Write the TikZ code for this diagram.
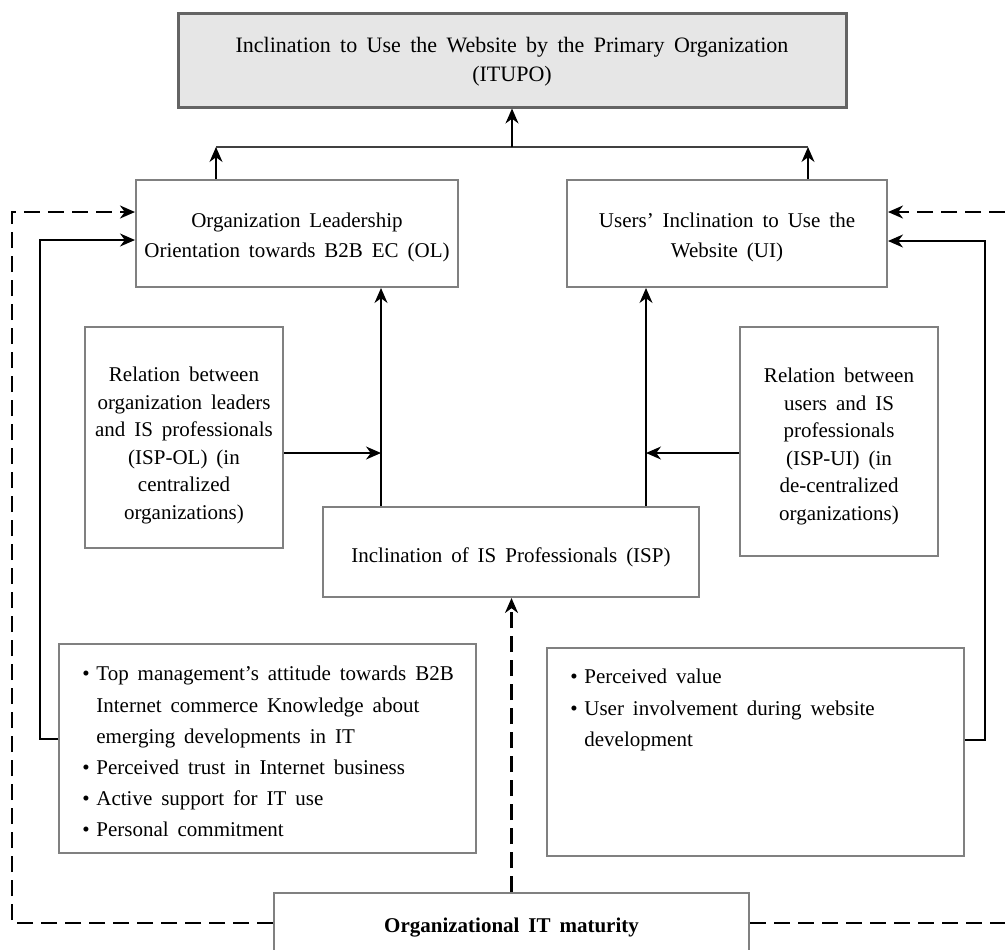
\documentclass[tikz,border=0pt]{standalone}
\usepackage{fontspec}
\setmainfont{Liberation Serif}[WordSpace=1.7]
\usetikzlibrary{arrows.meta}
\definecolor{boxgray}{HTML}{808080}
\definecolor{topgray}{HTML}{646464}
\definecolor{topfill}{HTML}{E6E6E6}
\newcommand{\dnshift}[1]{\rule{0pt}{\dimexpr 7.2pt+2\dimexpr #1\relax\relax}}
\begin{document}
\begin{tikzpicture}[x=0.5pt,y=-0.5pt,
  box/.style={draw=boxgray, line width=1pt, inner sep=0pt, align=center,
    font=\fontsize{10.5}{15}\selectfont},
  relbox/.style={box, minimum width=99pt, font=\fontsize{10.5}{13.8}\selectfont},
  bullettext/.style={inner sep=0pt, align=left, anchor=north west,
    font=\fontsize{10.5}{15.6}\selectfont},
  arr/.style={-{Stealth[length=7.5pt,width=6.5pt,inset=2.4pt]}, line width=0.6pt},
  dsh/.style={line width=1.1pt, dash pattern=on 8pt off 4pt,
    -{Stealth[length=7.5pt,width=6.5pt,inset=2.4pt]}},
]
\useasboundingbox (0,0) rectangle (1005,949);
\clip (0,0) rectangle (1005,949);

% boxes
\node[box, draw=topgray, line width=1.5pt, fill=topfill, minimum width=334pt,
  minimum height=47pt, font=\fontsize{11}{14.5}\selectfont] (ITUPO) at (512,60)
  {\dnshift{1pt}Inclination to Use the Website by the Primary Organization\\(ITUPO)};
\node[box, minimum width=161pt, minimum height=53.5pt] (OL) at (297,233.5)
  {\dnshift{2pt}Organization Leadership\\Orientation towards B2B EC (OL)};
\node[box, minimum width=160pt, minimum height=53.5pt] (UI) at (727,233.5)
  {\dnshift{2pt}Users’ Inclination to Use the\\Website (UI)};
\node[relbox, minimum height=110.5pt] (ISPOL) at (184,437.5)
  {\dnshift{4pt}Relation between\\organization leaders\\and IS professionals\\(ISP-OL) (in\\centralized\\organizations)};
\node[relbox, minimum height=114.5pt] (ISPUI) at (839,441.5)
  {\dnshift{2.5pt}Relation between\\users and IS\\professionals\\(ISP-UI) (in\\de-centralized\\organizations)};
\node[box, minimum width=188pt, minimum height=45pt] (ISP) at (511,552)
  {\dnshift{3pt}Inclination of IS Professionals (ISP)};
\node[box, minimum width=208.5pt, minimum height=104.5pt] (LB) at (267.5,748.5) {};
\node[box, minimum width=208.5pt, minimum height=104pt] (RB) at (755.5,752) {};
\node[box, minimum width=237.5pt, minimum height=32pt,
  font=\fontsize{10.5}{15}\selectfont\bfseries] (MAT) at (511.5,925)
  {\dnshift{1.5pt}Organizational IT maturity};

% bullet texts
\node[bullettext] (LBt) at (82,666)
  {\makebox[7pt][l]{\textbullet}Top management’s attitude towards B2B\\
   \hspace*{7pt}Internet commerce Knowledge about\\
   \hspace*{7pt}emerging developments in IT\\
   \makebox[7pt][l]{\textbullet}Perceived trust in Internet business\\
   \makebox[7pt][l]{\textbullet}Active support for IT use\\
   \makebox[7pt][l]{\textbullet}Personal commitment};
\node[bullettext] (RBt) at (570,669)
  {\makebox[7pt][l]{\textbullet}Perceived value\\
   \makebox[7pt][l]{\textbullet}User involvement during website\\
   \hspace*{7pt}development};

% top junction
\coordinate (jl) at (216,147);
\coordinate (jr) at (808,147);
\coordinate (jm) at (512,147);
\draw[arr] (OL.north -| jl) -- (jl);
\draw[arr] (UI.north -| jr) -- (jr);
\draw[line width=0.9pt, draw=black!75] (jl) -- (jr);
\draw[arr] (jm) -- (ITUPO.south);

% ISP to OL / UI
\coordinate (xl) at (381,0);
\coordinate (xr) at (646,0);
\coordinate (ya) at (0,453);
\draw[arr] (ISP.north -| xl) -- (OL.south -| xl);
\draw[arr] (ISP.north -| xr) -- (UI.south -| xr);
\draw[arr] (ISPOL.east |- ya) -- (ya -| xl);
\draw[arr] (ISPUI.west |- ya) -- (ya -| xr);

% solid feedback lines
\coordinate (lx) at (40,0);
\coordinate (ly1) at (0,240);
\coordinate (ly2) at (0,739);
\draw[arr] (LB.west |- ly2) -- (lx |- ly2) -- (lx |- ly1) -- (OL.west |- ly1);
\coordinate (rx) at (985,0);
\coordinate (ry1) at (0,241);
\coordinate (ry2) at (0,740);
\draw[arr] (RB.east |- ry2) -- (rx |- ry2) -- (rx |- ry1) -- (UI.east |- ry1);

% dashed maturity lines
\coordinate (dl) at (12,0);
\coordinate (dr) at (1014,0);
\coordinate (dy1) at (0,212);
\coordinate (dy2) at (0,923);
\draw[dsh] (MAT.west |- dy2) -- (dl |- dy2) -- (dl |- dy1) -- (OL.west |- dy1);
\draw[dsh] (MAT.east |- dy2) -- (dr |- dy2) -- (dr |- dy1) -- (UI.east |- dy1);
\draw[dsh] (MAT.north) -- (MAT.north |- ISP.south);
\end{tikzpicture}
\end{document}
